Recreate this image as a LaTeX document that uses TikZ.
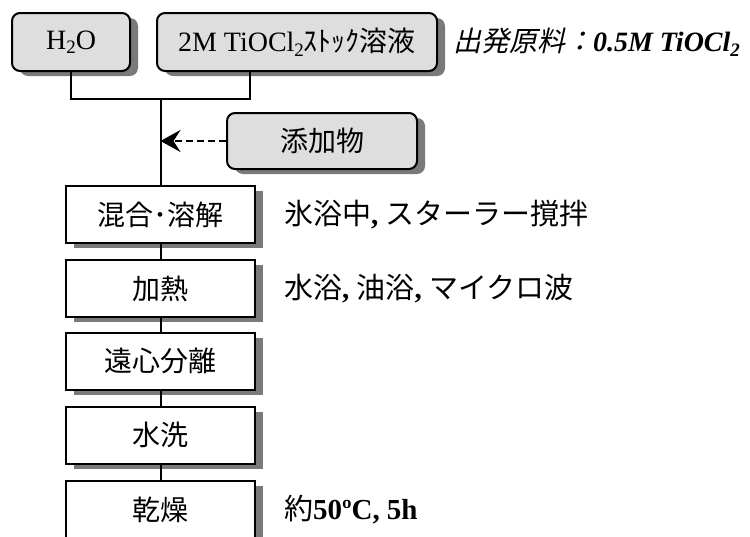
\documentclass[tikz,border=0pt]{standalone}
\usepackage{fontspec}
\setmainfont{Liberation Serif}
\newfontfamily\jp{Noto Sans CJK JP}
\newfontfamily\jpit[FakeSlant=0.22]{Noto Sans CJK JP}
\usetikzlibrary{arrows.meta,calc}
\newcommand\lowtwo{\raisebox{-0.35ex}{\fontsize{9.5pt}{10pt}\selectfont 2}}
\begin{document}
\begin{tikzpicture}[x=0.5pt,y=-0.5pt, line width=1pt,
  shadowfill/.style={fill=black!52, draw=none},
  src/.style={draw, rounded corners=4pt, fill=black!13, minimum height=29pt, inner sep=0pt,
    font=\fontsize{14pt}{16pt}\selectfont},
  stepbox/.style={draw, fill=white, minimum width=94.5pt, minimum height=28.5pt, inner sep=0pt,
    font=\jp\fontsize{14pt}{16pt}\selectfont},
  note/.style={anchor=west, inner sep=0pt, font=\fontsize{14.5pt}{16pt}\selectfont}
]
\useasboundingbox (0,0) rectangle (750,536);

% shadows (offset 8px right, 5px down)
\fill[shadowfill, rounded corners=4pt] (20,18) rectangle (138,76);
\fill[shadowfill, rounded corners=4pt] (165,18) rectangle (445,76);
\fill[shadowfill, rounded corners=4pt] (235,118) rectangle (425,174);
\foreach \yc in {214.5,288.5,361,435,509.5}{
  \fill[shadowfill] (74,\yc-23.5) rectangle (263,\yc+33.5);
}

\node[src, minimum width=59pt] (h2o) at (71,42) {H\lowtwo O};
\node[src, minimum width=140pt] (stock) at (297,42) {2M TiOCl\lowtwo{\jp ｽﾄｯｸ溶液}};
\node[anchor=west, inner sep=0pt, font=\fontsize{14pt}{16pt}\selectfont] (start) at (452,42)
  {{\jpit 出発原料：}\textbf{\textit{0.5M TiOCl\lowtwo}}};
\node[src, minimum width=95pt, minimum height=28pt, font=\jp\fontsize{14pt}{16pt}\selectfont] (add) at (322,141) {添加物};

\node[stepbox] (mix) at (160.5,214.5) {混合･溶解};
\node[stepbox] (heat) at (160.5,288.5) {加熱};
\node[stepbox] (cent) at (160.5,361) {遠心分離};
\node[stepbox] (wash) at (160.5,435) {水洗};
\node[stepbox] (dry) at (160.5,509.5) {乾燥};

\coordinate (j) at (160.5,99);
\draw (h2o.south) |- (j) -| ([xshift=-23.5pt]stock.south);
\draw (j) -- (mix.north);
\draw[line width=1.3pt, dash pattern=on 3.5pt off 2pt, -{Stealth[length=10pt,width=11pt,inset=3.5pt]}] (add.west) -- (add.west -| j);
\draw (mix) -- (heat);
\draw (heat) -- (cent);
\draw (cent) -- (wash);
\draw (wash) -- (dry);

\node[note] (n1) at (283,214.5) {{\jp 氷浴中}\textbf{,} {\jp スターラー撹拌}};
\node[note] (n2) at (283,288.5) {{\jp 水浴}\textbf{,} {\jp 油浴}\textbf{,} {\jp マイクロ波}};
\node[note] (n3) at (283,509.5) {{\jp 約}\textbf{50ºC, 5h}};
\end{tikzpicture}
\end{document}
